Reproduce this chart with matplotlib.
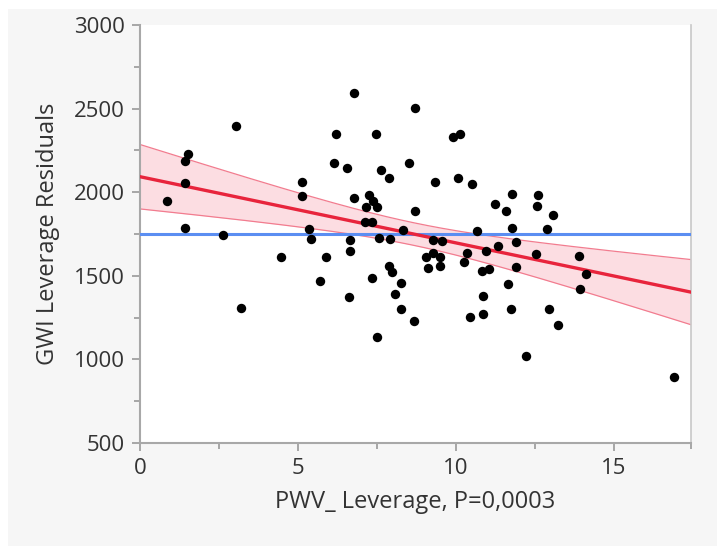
import numpy as np
import matplotlib
matplotlib.use("Agg")
import matplotlib.pyplot as plt
from matplotlib.patches import Rectangle

# PWV leverage vs GWI leverage residuals
pwv = [0.86, 1.42, 1.51, 1.42, 1.44, 2.63, 3.03, 3.19, 4.46, 5.14,
       5.14, 5.35, 5.43, 5.70, 5.88, 6.15, 6.20, 6.54, 6.62, 6.65,
       6.65, 6.78, 6.78, 7.26, 7.39, 7.15, 7.49, 7.12, 7.35, 7.46,
       7.34, 7.51, 7.58, 7.92, 7.63, 7.89, 7.88, 7.97, 8.07, 8.25,
       8.25, 8.33, 8.52, 8.68, 8.71, 8.71, 9.34, 9.29, 9.55, 9.06,
       9.28, 9.50, 9.13, 9.50, 9.90, 10.14, 10.08, 10.52, 10.66, 10.35,
       10.27, 10.96, 11.35, 10.82, 11.05, 10.87, 10.45, 10.87, 11.24, 11.59,
       11.79, 11.79, 11.90, 11.91, 11.64, 11.75, 12.22, 12.54, 12.61, 12.56,
       12.88, 13.09, 12.96, 13.23, 13.90, 14.13, 13.94, 16.92]
gwi = [1947, 2187, 2227, 2053, 1788, 1744, 2396, 1309, 1615, 2059,
       1977, 1780, 1718, 1471, 1612, 2173, 2351, 2143, 1375, 1714,
       1648, 2596, 1964, 1983, 1949, 1910, 1910, 1822, 1822, 2351,
       1485, 1136, 1724, 1723, 2133, 2087, 1559, 1521, 1391, 1455,
       1300, 1774, 2172, 1231, 2502, 1889, 2059, 1717, 1711, 1615,
       1639, 1612, 1544, 1559, 2332, 2346, 2087, 2047, 1768, 1635,
       1581, 1648, 1681, 1529, 1541, 1379, 1255, 1270, 1930, 1888,
       1988, 1786, 1700, 1554, 1449, 1301, 1023, 1629, 1981, 1919,
       1778, 1864, 1300, 1203, 1618, 1511, 1419, 897]

x = np.array(pwv, dtype=float)
y = np.array(gwi, dtype=float)
n = len(x)

# least squares fit + 95% confidence band for the mean
slope, intercept = np.polyfit(x, y, 1)
resid = y - (slope * x + intercept)
s = np.sqrt(np.sum(resid ** 2) / (n - 2))
sxx = np.sum((x - x.mean()) ** 2)
t = 1.988
xs = np.linspace(0, 17.45, 200)
fit = slope * xs + intercept
half = t * s * np.sqrt(1 / n + (xs - x.mean()) ** 2 / sxx)

fig = plt.figure(figsize=(7.17, 5.46), dpi=100, facecolor="white")
fig.patches.append(Rectangle((8 / 717, 0), 1, 1 - 9 / 546, transform=fig.transFigure,
                             facecolor="#f6f6f6", edgecolor="none", zorder=-10))
ax = fig.add_axes([140 / 717, 1 - 443 / 546, 551 / 717, 418 / 546])
ax.set_facecolor("white")

ax.fill_between(xs, fit - half, fit + half, color="#fcdde2", zorder=1, linewidth=0)
ax.plot(xs, fit + half, color="#f27c8f", lw=0.9, zorder=2)
ax.plot(xs, fit - half, color="#f27c8f", lw=0.9, zorder=2)
ax.axhline(y.mean(), color="#5b8ef2", lw=2.2, zorder=3)
ax.plot(xs, fit, color="#e8243c", lw=2.4, zorder=4)
ax.scatter(x, y, s=46, color="black", zorder=5, linewidths=0)

ax.set_xlim(0, 17.45)
ax.set_ylim(500, 3000)
ax.set_xticks([0, 5, 10, 15])
ax.set_xticks([2.5, 7.5, 12.5, 17.45], minor=True)
ax.set_yticks([500, 1000, 1500, 2000, 2500, 3000])
ax.set_yticks([750, 1250, 1750, 2250, 2750], minor=True)

for side in ["left", "bottom"]:
    ax.spines[side].set_color("#a8a8a8")
    ax.spines[side].set_linewidth(1.5)
ax.spines["right"].set_color("#c8c8c8")
ax.spines["right"].set_linewidth(1.2)
ax.spines["top"].set_visible(False)

font = "Open Sans"
ax.tick_params(which="major", length=6, width=1.2, color="#999999",
               labelsize=16, labelcolor="#333333", pad=5)
ax.tick_params(which="minor", length=4, width=1.2, color="#999999")
for lab in ax.get_xticklabels() + ax.get_yticklabels():
    lab.set_fontfamily(font)

ax.set_xlabel("PWV_ Leverage, P=0,0003", fontsize=17, color="#333333",
              family=font, labelpad=8)
ax.set_ylabel("GWI Leverage Residuals", fontsize=17, color="#333333",
              family=font, labelpad=10)

fig.savefig("out.png", dpi=100, facecolor=fig.get_facecolor())
